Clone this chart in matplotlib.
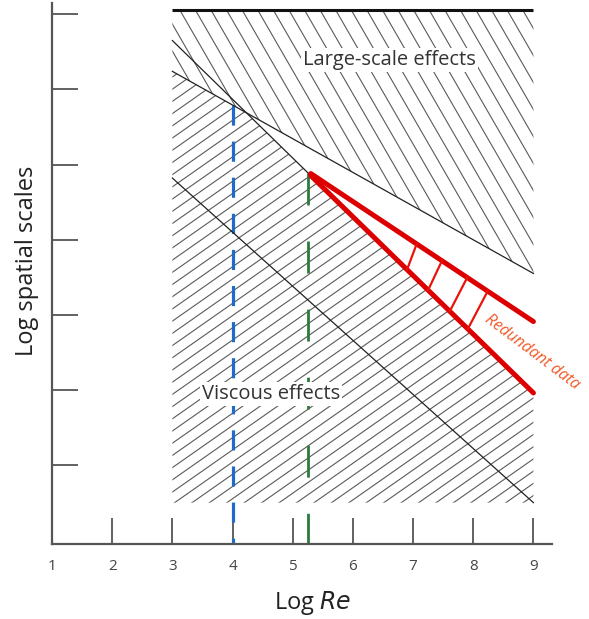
import numpy as np
import matplotlib.pyplot as plt
from matplotlib.patches import Polygon
from matplotlib.collections import LineCollection

plt.rcParams['font.family'] = ['Open Sans', 'DejaVu Sans']

# axis ticks (log Re along x, log spatial scale along y)
x_ticks = [1, 2, 3, 4, 5, 6, 7, 8, 9]
y_ticks = [1, 2, 3, 4, 5, 6, 7]

# extent of the shaded zones
zone_x = [3, 9]
zone_top = 7.05
zone_bottom = 0.5

# boundary lines, end points at x = 3 and x = 9
line_x = [3, 9]
line_a = [6.65, 1.96]   # viscous limit, continues as lower red edge
line_b = [6.24, 3.55]   # large-scale limit
line_c = [4.82, 0.50]

# redundant data wedge
red_x = [5.3, 9]
red_upper = [4.88, 2.91]
rung_top_x = [7.06, 7.48, 7.90, 8.24]
rung_bot_x = [6.90, 7.25, 7.61, 7.91]

blue_x = 4.0
green_x = 5.25


def line_at(x, ys, xs=line_x):
    return np.interp(x, xs, ys)


def hatch(ax, px, py, angle, spacing, **kw):
    '''fill polygon with parallel lines; angle in deg (screen), spacing in px'''
    patch = Polygon(np.column_stack([px, py]), closed=True, fill=False,
                    edgecolor='none')
    ax.add_patch(patch)
    pts = ax.transData.transform(np.column_stack([px, py]))
    cx, cy = pts.mean(axis=0)
    r = np.hypot(*(pts.max(axis=0) - pts.min(axis=0)))
    t = np.radians(angle)
    d = np.array([np.cos(t), np.sin(t)])
    n = np.array([-np.sin(t), np.cos(t)])
    segs = []
    for k in np.arange(-r, r, spacing):
        c = np.array([cx, cy]) + k * n
        seg = np.array([c - r * d, c + r * d])
        segs.append(ax.transData.inverted().transform(seg))
    lc = LineCollection(segs, **kw)
    lc.set_clip_path(patch)
    ax.add_collection(lc)


fig = plt.figure(figsize=(5.89, 6.19), dpi=100)
ax = fig.add_axes([0.0883, 0.1212, 0.849, 0.874])
ax.set_xlim(1, 9.31)
ax.set_ylim(-0.05, 7.15)

# crossing of lines A and B
sa = (line_a[1] - line_a[0]) / (line_x[1] - line_x[0])
sb = (line_b[1] - line_b[0]) / (line_x[1] - line_x[0])
xc = line_x[0] + (line_b[0] - line_a[0]) / (sa - sb)
yc = line_at(xc, line_a)

# large-scale zone: above line B
up_x = [zone_x[0], zone_x[1], zone_x[1], zone_x[0]]
up_y = [zone_top, zone_top, line_b[1], line_b[0]]
hatch(ax, up_x, up_y, -60, 13.5, colors='#5a5a5a', linewidths=0.8, zorder=1)

# viscous zone: below both lines
lo_x = [zone_x[0], zone_x[1], zone_x[1], xc, zone_x[0]]
lo_y = [zone_bottom, zone_bottom, line_a[1], yc, line_b[0]]
hatch(ax, lo_x, lo_y, 35, 10, colors='#5a5a5a', linewidths=0.8, zorder=1)

# boundary lines
ax.plot(zone_x, [zone_top, zone_top], color='#111111', lw=2.2, zorder=3,
        solid_capstyle='butt')
ax.plot([line_x[0], red_x[0]], [line_a[0], line_at(red_x[0], line_a)],
        color='#222222', lw=0.9, zorder=3)
ax.plot(line_x, line_b, color='#222222', lw=0.9, zorder=3)
ax.plot(line_x, line_c, color='#222222', lw=0.9, zorder=3)

# reference Re lines
ax.plot([blue_x, blue_x], [line_at(blue_x, line_b), -0.05], color='#1f6cc8',
        lw=2.3, ls=(0, (6.3, 5.0)), zorder=2)
ax.plot([green_x, green_x], [line_at(green_x, line_a), -0.05], color='#2e7a3c',
        lw=2.0, ls=(0, (11.5, 13)), zorder=2)

# redundant data wedge
red_lower = line_at(np.array(red_x), line_a)
ax.plot(red_x, red_upper, color='#dd0000', lw=3.6, solid_capstyle='round', zorder=4)
ax.plot(red_x, red_lower, color='#dd0000', lw=3.6, solid_capstyle='round', zorder=4)
for xt, xb in zip(rung_top_x, rung_bot_x):
    ax.plot([xt, xb], [line_at(xt, red_upper, red_x), line_at(xb, line_a)],
            color='#e8140a', lw=1.6, zorder=4)

box = dict(facecolor='white', edgecolor='none', pad=1.5)
ax.text(6.61, 6.39, 'Large-scale effects', ha='center', va='center',
        fontsize=14.5, color='#333333', bbox=box, zorder=5)
ax.text(4.64, 1.94, 'Viscous effects', ha='center', va='center',
        fontsize=14.5, color='#333333', bbox=box, zorder=5)
ax.text(8.97, 2.50, 'Redundant data', ha='center', va='center', rotation=-37,
        rotation_mode='anchor', fontsize=11.5, style='italic', color='#f05a28',
        zorder=5)

for s in ['top', 'right']:
    ax.spines[s].set_visible(False)
for s in ['left', 'bottom']:
    ax.spines[s].set_color('#555555')
    ax.spines[s].set_linewidth(1.6)

ax.set_xticks(x_ticks)
ax.set_xticklabels([str(v) for v in x_ticks])
ax.set_yticks(y_ticks)
ax.set_yticklabels([])
ax.tick_params(direction='in', length=18.7, width=1.3, color='#555555')
ax.tick_params(axis='x', pad=11, labelsize=11, labelcolor='#444444')

ax.set_ylabel('Log spatial scales', fontsize=17, color='#222222')
ax.set_xlabel('Log $\\it{Re}$', fontsize=17, color='#222222')
ax.yaxis.set_label_coords(-0.026, 0.523)
ax.xaxis.set_label_coords(0.522, -0.083)

fig.savefig('out.png', dpi=100)
